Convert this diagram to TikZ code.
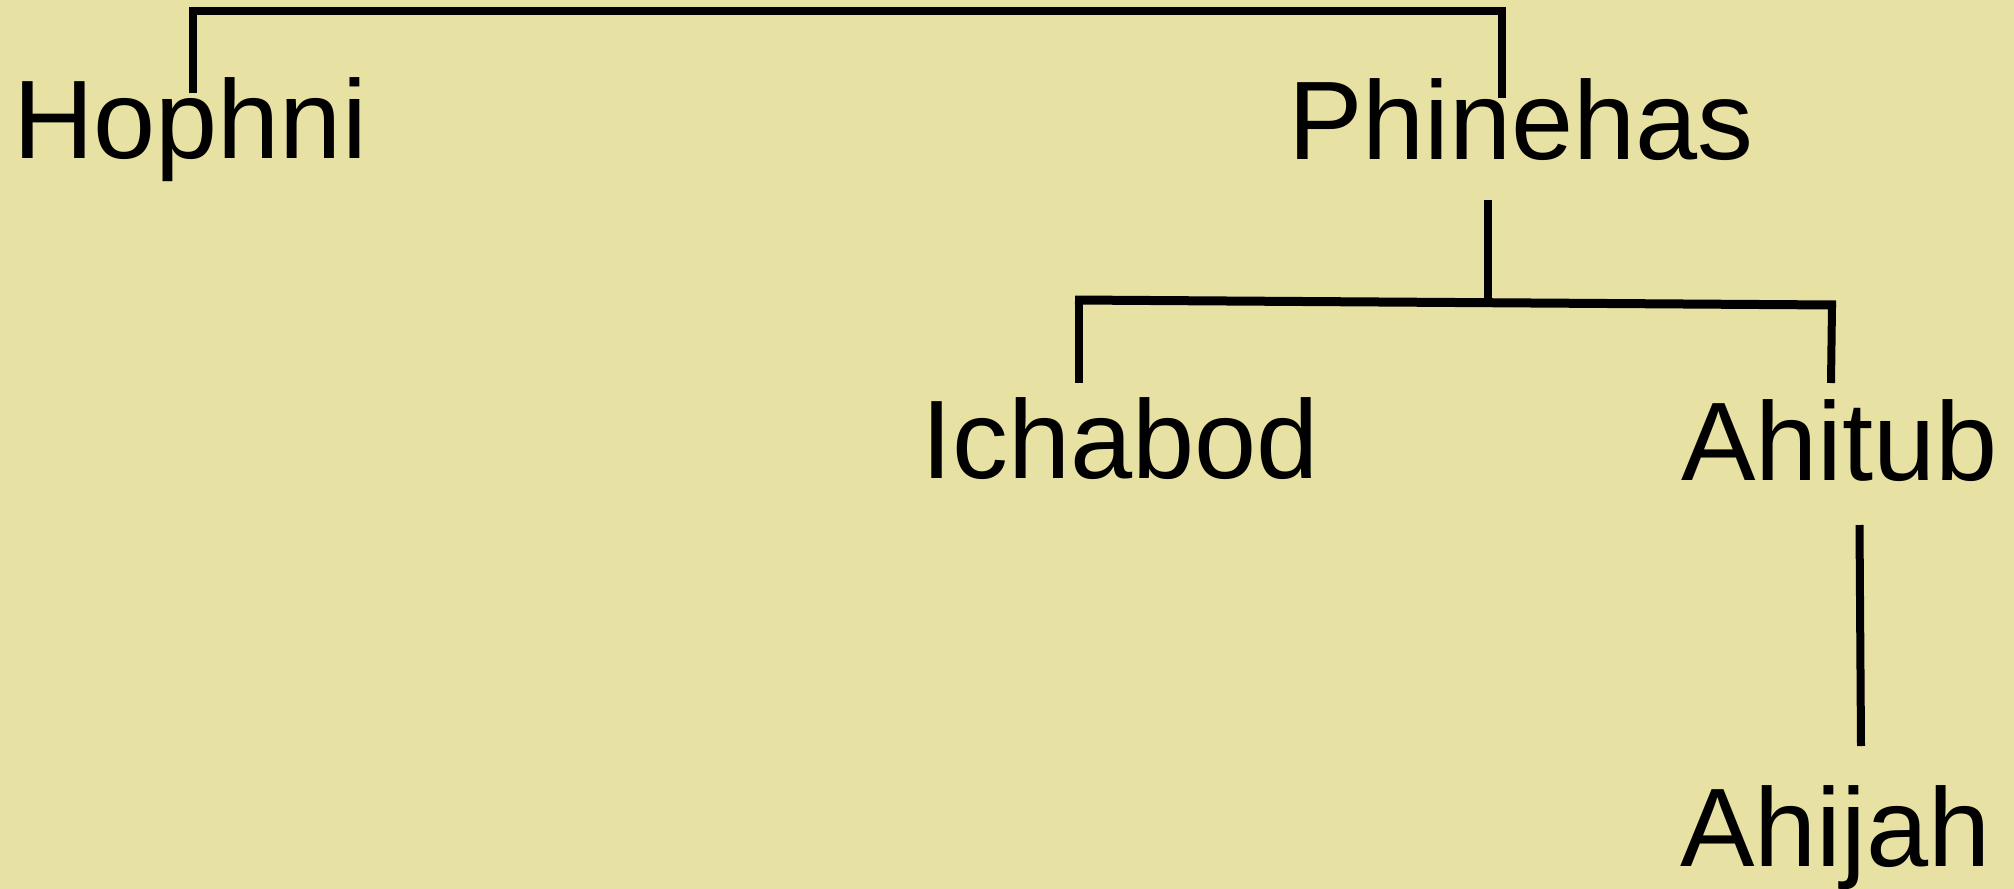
\documentclass[tikz,border=0pt]{standalone}
\usepackage{fontspec}
\setmainfont{Liberation Sans}
\definecolor{parch}{RGB}{231,225,163}
\begin{document}
\begin{tikzpicture}[x=1pt,y=-1pt,
  person/.style={inner sep=0pt,outer sep=0pt,anchor=base west,text=black,
    font=\fontsize{111.7}{134}\selectfont},
  link/.style={draw=black,line width=8pt,line cap=butt,line join=miter}]
\fill[parch] (0,0) rectangle (2014,889);
\useasboundingbox (0,0) rectangle (2014,889);
% names
\node[person] (hophni) at (13,158) {Hophni};
\node[person] (phinehas) at (1288,159) {Phinehas};
\node[person] (ichabod) at (921.5,478) {Ichabod};
\node[person] (ahitub) at (1681,480) {Ahitub};
\node[person] (ahijah) at (1680,866) {Ahijah};
% connector points
\coordinate (hA) at (193,93);
\coordinate (hB) at (193,11);
\coordinate (pB) at (1502,11);
\coordinate (pA) at (1502,98);
\coordinate (pD) at (1487.5,200);
\coordinate (pU) at (1487.5,301);
\coordinate (barL) at (1075,300);
\coordinate (barR) at (1836,305);
\coordinate (iU) at (1079,300);
\coordinate (iD) at (1079,383);
\coordinate (aU) at (1832,305);
\coordinate (aD) at (1831,383);
\coordinate (tD) at (1859.5,525);
\coordinate (jU) at (1861,746);
% brackets
\draw[link] (hA) -- (hB) -- (pB) -- (pA);
\draw[link] (pD) -- (pU);
\draw[link,line width=9pt] (barL) -- (barR);
\draw[link] (iU) -- (iD);
\draw[link] (aU) -- (aD);
\draw[link] (tD) -- (jU);
\end{tikzpicture}
\end{document}
